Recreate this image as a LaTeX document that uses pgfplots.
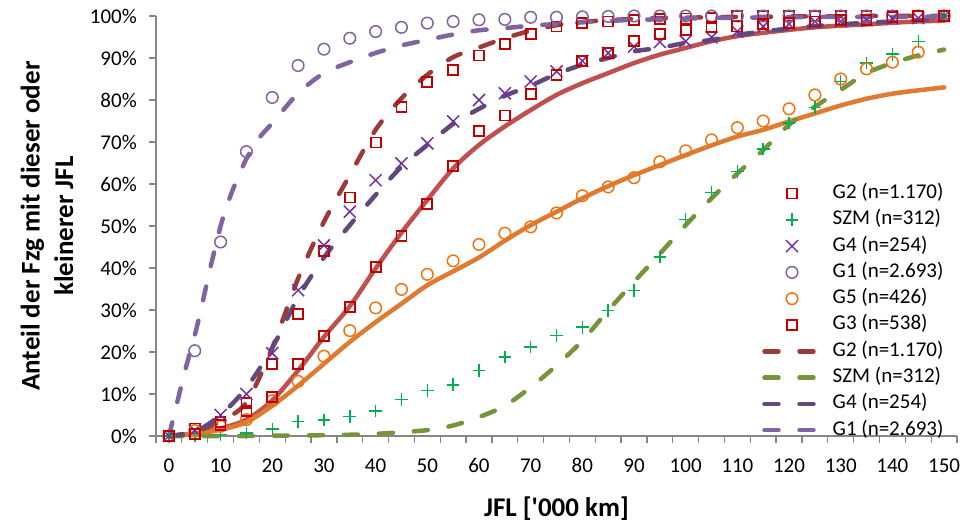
\documentclass[border=0pt]{standalone}
\usepackage{fontspec}
\setmainfont{Carlito}
\usepackage{pgfplots}
\usepackage{pgfplotstable}
\pgfplotsset{compat=1.18}

\definecolor{axisgray}{HTML}{868686}
\definecolor{sqred}{HTML}{C00000}
\definecolor{plusgreen}{HTML}{00B050}
\definecolor{xpurple}{HTML}{7030A0}
\definecolor{lilac}{HTML}{8064A2}
\definecolor{circorange}{HTML}{EE7412}
\definecolor{fitred}{HTML}{C0504D}
\definecolor{fitorange}{HTML}{DE7B30}
\definecolor{dashred}{HTML}{9C3A37}
\definecolor{dashgreen}{HTML}{77933C}
\definecolor{dashpurple}{HTML}{604A7B}

% measured shares (%), one column per group
\pgfplotstableread{
x   g2    szm   g4    g1    g5    g3
0   0     0     0     0     0     0
5   1.8   0     1.3   20.3  1.3   0.4
10  3.3   0.4   5     46.2  2.3   2.6
15  7.9   0.7   10    67.7  3.9   5.9
20  17.2  1.7   19.7  80.6  8.4   9.2
25  29    3.4   34.7  88.2  13    17.2
30  44    3.8   45.4  92.1  19    23.8
35  56.8  4.7   53.4  94.7  25.1  30.7
40  69.9  6     60.9  96.3  30.5  40.3
45  78.4  8.7   64.9  97.3  34.9  47.7
50  84.2  10.8  69.7  98.3  38.5  55.2
55  87.2  12.2  74.9  98.7  41.7  64.2
60  90.6  15.6  80    99.1  45.6  72.6
65  93.4  18.8  81.6  99.2  48.3  76.3
70  95.7  21.2  84.4  99.7  49.8  81.5
75  97.5  23.9  86.8  99.7  53.1  86
80  98.3  25.9  89.3  99.8  57.2  89.3
85  98.7  29.9  91.2  99.9  59.3  91.2
90  99    34.7  92.7  100   61.5  94.1
95  99.2  42.6  93.8  100   65.3  95.7
100 99.4  51.6  94    100   67.9  96.6
105 99.6  58    94.9  100   70.5  97.3
110 100   63    96.3  100   73.4  97.5
115 100   68.3  97.5  100   75    98
120 100   74.5  98.1  100   77.9  98.3
125 100   78.2  98.7  100   81.2  98.7
130 100   84.4  98.7  100   85    99
135 100   88.8  99    100   87.4  99.1
140 100   90.9  99.4  100   89    99.7
145 100   93.9  99.5  100   91.4  100
150 100   100   100   100   100   100
}\measured

% fitted curves
\pgfplotstableread{
x   g3f   g5f   g2f   szmf  g4f
0   0     0     0     0     0
5   0.6   0.5   1     0     1
10  1.8   1.5   3.5   0     5
15  3.9   3.3   8     0     11.5
20  8.5   7.2   21    0.1   21
25  15.6  12    37.5  0.1   33
30  23.6  17.2  51    0.2   42.5
35  30.9  22.4  62.1  0.3   50.2
40  39.9  27.1  72.9  0.5   57.4
45  48.4  31.5  80.4  0.9   64.1
50  56.2  35.9  86    1.4   69.3
55  63.7  39.2  90.2  2.5   74.3
60  69.3  42.5  92.5  4.5   77.9
65  73.7  46.5  94.7  7.2   81
70  77.6  50.2  96.5  11.6  83.4
75  81.2  53.4  97.8  16.8  86.2
80  84    56.6  98.6  22.7  88.4
85  86.4  59.5  99    29.9  90
90  88.8  62.1  99.3  36.7  91.6
95  90.8  64.5  99.5  43.4  92.4
100 92.4  66.9  99.6  50.2  93.6
105 94    69.2  99.7  56.6  94.3
110 95.2  71.3  99.8  62.5  95.5
115 96    72.9  99.8  68.1  96.3
120 96.7  74.9  99.9  74.1  97
125 97.3  76.8  99.9  78.4  97.6
130 97.7  78.7  99.9  82.4  98
135 98    80.3  100   86.4  98.4
140 98.4  81.5  100   88.8  98.7
145 98.7  82.3  100   90.6  99
150 98.9  83    100   92    99.2
}\fits

\pgfplotstableread{
x    g1f
0    0
1    5
2    10
3    15
4    19.5
5    24
6    29
7    34.5
8    40
9    45
10   50
11   54
12   57.5
13   60.5
15   66
17.5 71
20   74.5
25   81.6
30   86.4
35   89
40   91.2
45   93
50   94.3
55   95.6
60   96.6
65   97.1
70   97.7
75   98.1
80   98.5
85   98.8
90   99.1
95   99.2
100  99.4
110  99.6
120  99.7
130  99.8
140  99.8
150  99.9
}\gonefit

\begin{document}
\begin{tikzpicture}
\begin{axis}[
    scale only axis,
    width=801pt, height=420pt,
    xmin=-2.5, xmax=152.5,
    ymin=0, ymax=100,
    clip=false,
    axis x line*=bottom, axis y line*=left,
    axis line style={draw=axisgray, line width=1.5pt, -},
    tick align=outside,
    major tick length=7pt,
    tick style={draw=axisgray, line width=1.3pt},
    xtick={-2.5,2.5,...,152.5},
    xticklabels={},
    extra x ticks={0,10,...,150},
    extra x tick labels={0,10,20,30,40,50,60,70,80,90,100,110,120,130,140,150},
    extra x tick style={major tick length=0pt},
    ytick={0,10,...,100},
    yticklabel={\pgfmathprintnumber{\tick}\%},
    /pgf/number format/assume math mode=true,
    tick label style={font=\fontsize{21}{25}\selectfont},
    yticklabel style={anchor=east, inner sep=0pt, xshift=-12pt},
    xticklabel style={anchor=base, inner sep=0pt, yshift=-36.5pt},
    xlabel={JFL [\textquotesingle 000 km]},
    ylabel={Anteil der Fzg mit dieser oder\\kleinerer JFL},
    xlabel style={at={(axis description cs:0.5,-0.192)}, anchor=base,
        font=\bfseries\fontsize{27}{33}\selectfont},
    ylabel style={at={(axis description cs:-0.136,0.5)}, anchor=center, align=center,
        font=\bfseries\fontsize{27}{33.4}\selectfont},
    legend style={at={(axis description cs:0.7566,0.6017)}, anchor=north west,
        draw=none, fill=none, inner sep=0pt, row sep=6.3pt,
        font=\fontsize{21}{25}\selectfont,
        nodes={inner sep=0pt, text height=15pt, text depth=5pt},
        /tikz/every odd column/.append style={column sep=11pt}},
    legend cell align=left,
    legend image code/.code={\draw[mark repeat=2,mark phase=2,#1]
        plot coordinates {(0pt,0pt) (27.5pt,0pt) (55pt,0pt)};},
    fitline/.style={line width=4.5pt, smooth, mark=none, line cap=round},
    dashfit/.style={line width=4.5pt, smooth, mark=none, line cap=round,
        dash pattern=on 14pt off 21pt},
]
% fitted solid lines, not in the legend
\addplot[fitline, color=fitred, forget plot] table[x=x, y=g3f] {\fits};
\addplot[fitline, color=fitorange, forget plot] table[x=x, y=g5f] {\fits};

% measured points
\addplot[only marks, color=sqred, mark=square, mark size=5pt, mark options={line width=1.8pt, fill=none}]
    table[x=x, y=g2] {\measured};
\addlegendentry{G2 (n=1.170)}
\addplot[only marks, color=plusgreen, mark=+, mark size=6.3pt, mark options={line width=1.5pt}]
    table[x=x, y=szm] {\measured};
\addlegendentry{SZM (n=312)}
\addplot[only marks, color=xpurple, mark=x, mark size=8.5pt, mark options={line width=1.5pt}]
    table[x=x, y=g4] {\measured};
\addlegendentry{G4 (n=254)}
\addplot[only marks, color=lilac, mark=o, mark size=5.8pt, mark options={line width=1.5pt, fill=none}]
    table[x=x, y=g1] {\measured};
\addlegendentry{G1 (n=2.693)}
\addplot[only marks, color=circorange, mark=o, mark size=5.8pt, mark options={line width=1.5pt, fill=none}]
    table[x=x, y=g5] {\measured};
\addlegendentry{G5 (n=426)}
\addplot[only marks, color=sqred, mark=square, mark size=5pt, mark options={line width=1.8pt, fill=none}]
    table[x=x, y=g3] {\measured};
\addlegendentry{G3 (n=538)}

% fitted dashed lines
\addplot[dashfit, color=dashred] table[x=x, y=g2f] {\fits};
\addlegendentry{G2 (n=1.170)}
\addplot[dashfit, color=dashgreen] table[x=x, y=szmf] {\fits};
\addlegendentry{SZM (n=312)}
\addplot[dashfit, color=dashpurple] table[x=x, y=g4f] {\fits};
\addlegendentry{G4 (n=254)}
\addplot[dashfit, color=lilac] table[x=x, y=g1f] {\gonefit};
\addlegendentry{G1 (n=2.693)}
\end{axis}
\path ([shift={(-156pt,-87pt)}]current axis.south west) rectangle ([shift={(19pt,16pt)}]current axis.north east);
\end{tikzpicture}
\end{document}
